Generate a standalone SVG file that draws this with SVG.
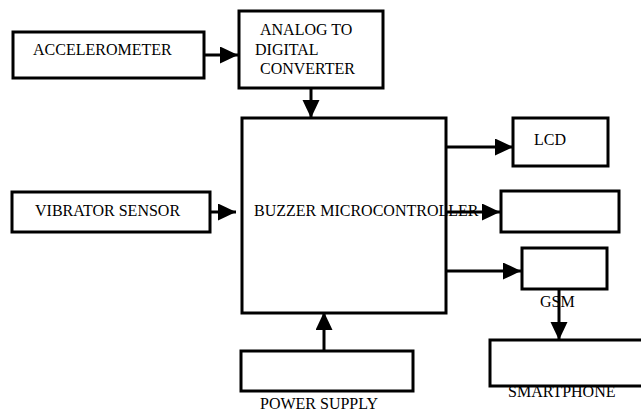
<svg xmlns="http://www.w3.org/2000/svg" width="641" height="411" viewBox="0 0 641 411">
<style>
.box{fill:none;stroke:#000;stroke-width:3;stroke-linejoin:miter}
.t{font-family:"Liberation Serif","Times New Roman",serif;font-size:16px;fill:#000}
.c{stroke:#000;stroke-width:3;fill:none}
</style>
<defs>
<marker id="ah" markerUnits="userSpaceOnUse" markerWidth="20" markerHeight="18" refX="18" refY="8.5" orient="auto">
<path d="M0,0 L18,8.5 L0,17 Z" fill="#000"/>
</marker>
</defs>
<rect width="641" height="411" fill="#fff"/>
<g id="accelerometer">
<rect class="box" x="13" y="32" width="191" height="46"/>
<text class="t" x="33" y="55">ACCELEROMETER</text>
</g>
<g id="adc">
<rect class="box" x="239" y="11" width="144" height="77"/>
<text class="t" x="260" y="35">ANALOG TO</text>
<text class="t" x="255" y="55">DIGITAL</text>
<text class="t" x="260" y="74">CONVERTER</text>
</g>
<g id="microcontroller">
<rect class="box" x="242" y="118" width="204" height="195"/>
<text class="t" x="254" y="216">BUZZER MICROCONTROLLER</text>
</g>
<g id="vibrator">
<rect class="box" x="12" y="192" width="198" height="40"/>
<text class="t" x="35" y="216">VIBRATOR SENSOR</text>
</g>
<g id="lcd">
<rect class="box" x="513" y="118" width="95" height="48"/>
<text class="t" x="534" y="145">LCD</text>
</g>
<g id="buzzer">
<rect class="box" x="501" y="191" width="118" height="41"/>
</g>
<g id="gsm">
<rect class="box" x="522" y="248" width="85" height="41"/>
<text class="t" x="540" y="307">GSM</text>
</g>
<g id="smartphone">
<path class="box" d="M645,340 L490,340 L490,386 L645,386"/>
<text class="t" x="508" y="397">SMARTPHONE</text>
</g>
<g id="power">
<rect class="box" x="241" y="351" width="172" height="40"/>
<text class="t" x="260" y="409">POWER SUPPLY</text>
</g>
<g id="connectors">
<line class="c" x1="204" y1="55" x2="238" y2="55" marker-end="url(#ah)"/>
<line class="c" x1="311" y1="88" x2="311" y2="118" marker-end="url(#ah)"/>
<line class="c" x1="210" y1="212" x2="236" y2="212" marker-end="url(#ah)"/>
<line class="c" x1="446" y1="147" x2="513" y2="147" marker-end="url(#ah)"/>
<line class="c" x1="446" y1="212" x2="500" y2="212" marker-end="url(#ah)"/>
<line class="c" x1="446" y1="271" x2="521" y2="271" marker-end="url(#ah)"/>
<line class="c" x1="559" y1="289" x2="559" y2="340" marker-end="url(#ah)"/>
<line class="c" x1="324" y1="351" x2="324" y2="312" marker-end="url(#ah)"/>
</g>
</svg>
